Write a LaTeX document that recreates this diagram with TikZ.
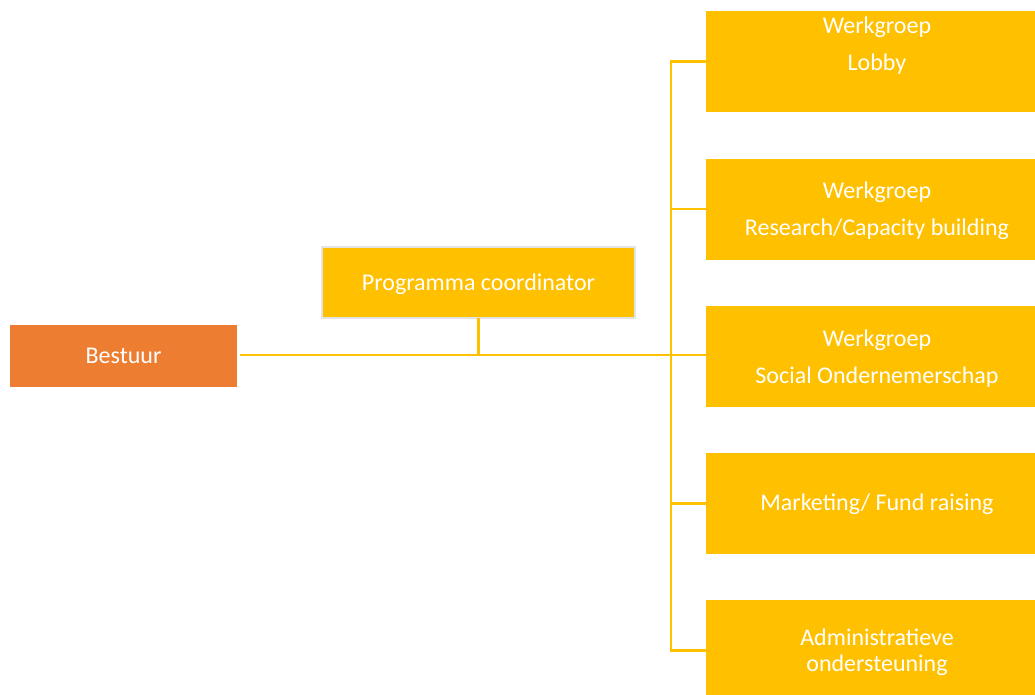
\documentclass[tikz,border=0pt]{standalone}
\usepackage{fontspec}
\setmainfont{Carlito}
\definecolor{gold}{HTML}{FFC000}
\definecolor{orng}{HTML}{ED7D31}
\definecolor{rim}{HTML}{E4E4E4}
\begin{document}
\begin{tikzpicture}[x=1pt,y=1pt,
  box/.style={fill=gold,draw=none,minimum width=342pt,minimum height=101pt,inner sep=0pt,outer sep=0pt},
  txt/.style={text=white,align=center,font=\fontsize{24}{26}\selectfont,inner sep=0pt},
  conn/.style={draw=gold,line width=2.5pt}]
\useasboundingbox (0,0) rectangle (1035,-694);
\clip (0,0) rectangle (1035,-694);
\fill[white] (0,0) rectangle (1035,-694);
% boxes
\node[box] (lobby) at (877,-61.5) {};
\node[txt] (lobbyt) at (877,-45.5) {Werkgroep\\[11pt]Lobby};
\node[box] (research) at (877,-209) {};
\node[txt] (researcht) at (877,-211) {Werkgroep\\[11pt]Research/Capacity building};
\node[box] (social) at (877,-356.5) {};
\node[txt] (socialt) at (877,-358.5) {Werkgroep\\[11pt]Social Ondernemerschap};
\node[box] (marketing) at (877,-503.5) {};
\node[txt] (marketingt) at (877,-504.5) {Marketing/ Fund raising};
\node[box] (admin) at (877,-650.5) {};
\node[txt] (admint) at (877,-652) {Administratieve\\ondersteuning};
\node[fill=orng,minimum width=227pt,minimum height=62pt,inner sep=0pt,outer sep=0pt,
  text=white,font=\fontsize{24}{26}\selectfont] (bestuur) at (123.5,-356) {Bestuur};
\node[fill=gold,draw=rim,line width=2pt,minimum width=313pt,minimum height=71pt,inner sep=0pt,outer sep=0pt,
  text=white,font=\fontsize{24}{26}\selectfont] (coord) at (478.5,-282.5) {};
\node[txt] (coordt) at (478.5,-284) {Programma coordinator};
% connectors
\coordinate (spine) at (671,-355);
\draw[conn] ([xshift=3pt]bestuur.east |- spine) -- (spine -| social.west);
\draw[conn] (coord.south) -- (coord.south |- spine);
\draw[conn] (lobby.west) -| (spine) |- (admin.west);
\draw[conn] (research.west) -- (research.west -| spine);
\draw[conn] (marketing.west) -- (marketing.west -| spine);
\end{tikzpicture}
\end{document}
